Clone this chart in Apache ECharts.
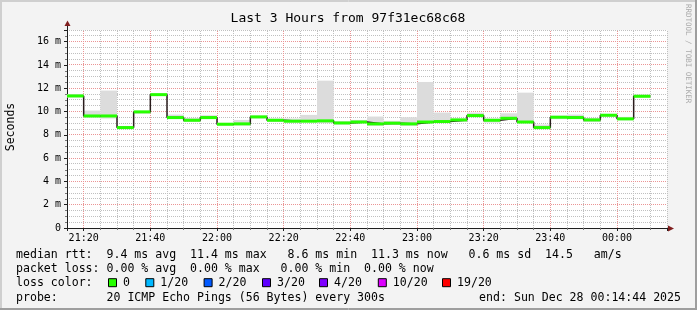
<!DOCTYPE html>
<html><head><meta charset="utf-8">
<script src="https://cdn.jsdelivr.net/npm/echarts@6/dist/echarts.min.js"></script>
<style>html,body{margin:0;padding:0;background:#f3f3f3}#c{width:697px;height:310px}</style>
</head><body><div id="c"></div>
<script>
// ---- data ----
const stepStart = ['21:15','21:20','21:25','21:30','21:35','21:40','21:45','21:50','21:55','22:00',
  '22:05','22:10','22:15','22:20','22:25','22:30','22:35','22:40','22:45','22:50',
  '22:55','23:00','23:05','23:10','23:15','23:20','23:25','23:30','23:35','23:40',
  '23:45','23:50','23:55','00:00','00:05'];
const median = [11.34, 9.62, 9.62, 8.62, 9.97, 11.45, 9.48, 9.25, 9.48, 8.91,
  8.94, 9.54, 9.25, 9.17, 9.17, 9.2, 9.02, 9.1, 8.94, 9.0,
  8.94, 9.1, 9.14, 9.28, 9.65, 9.25, 9.42, 9.1, 8.62, 9.51,
  9.48, 9.28, 9.68, 9.37, 11.31];
const smokeMin = [11.2, 9.48, 9.4, 8.5, 9.82, 11.35, 9.4, 9.1, 9.4, 8.77,
  8.8, 9.4, 9.1, 9.05, 9.1, 9.0, 8.88, 9.0, 8.77, 8.9,
  8.77, 9.0, 9.05, 9.1, 9.54, 9.05, 9.3, 9.0, 8.5, 9.34,
  9.4, 9.1, 9.54, 9.25, 11.2];
const smokeMax = [11.5, 10.08, 11.8, 8.74, 10.05, 11.55, 9.74, 9.45, 9.68, 9.02,
  9.28, 9.65, 9.4, 9.4, 9.71, 12.65, 9.17, 9.28, 9.57, 9.2,
  9.51, 12.54, 9.91, 9.4, 9.9, 9.4, 9.85, 11.62, 8.88, 9.65,
  9.74, 9.45, 9.8, 9.54, 11.45];
const stepMinutes = 5;
const windowStart = '21:15';
const windowEnd = '00:15';
const xTickLabels = ['21:20','21:40','22:00','22:20','22:40','23:00','23:20','23:40','00:00'];
const yTickLabels = ['0','2 m','4 m','6 m','8 m','10 m','12 m','14 m','16 m'];
const yMax = 17;
const yMinorStep = 0.5;

const titleText = 'Last 3 Hours from 97f31ec68c68';
const rttRow = 'median rtt:  9.4 ms avg  11.4 ms max   8.6 ms min  11.3 ms now   0.6 ms sd  14.5   am/s';
const lossRow = 'packet loss: 0.00 % avg  0.00 % max   0.00 % min  0.00 % now';
const lossColorTitle = 'loss color:';
const lossColorLabels = ['0','1/20','2/20','3/20','4/20','10/20','19/20'];
const lossColors = ['#26ff00','#00b8ff','#0059ff','#5e00ff','#7e00ff','#dd00ff','#ff0000'];
const probeRow = 'probe:       20 ICMP Echo Pings (56 Bytes) every 300s';
const endText = 'end: Sun Dec 28 00:14:44 2025';

// ---- helpers ----
function toMin(s){ const [h,m]=s.split(':').map(Number); return (h<12? h+24:h)*60+m; }
function fmtMin(v){ const t=Math.round(v)%1440; const h=Math.floor(t/60), m=t%60; return String(h).padStart(2,'0')+':'+String(m).padStart(2,'0'); }

const xs = stepStart.map(toMin);
const smokeData = xs.map((x,i)=>[x, smokeMin[i], smokeMax[i]]);
const medSegs = xs.map((x,i)=>[x, median[i]]);
const medLine = xs.map((x,i)=>[x, median[i]]).concat([[xs[xs.length-1]+stepMinutes, median[median.length-1]]]);
const xMin = toMin(windowStart), xMax = toMin(windowEnd);

const MONO = '"DejaVu Sans Mono", monospace';
const LEG = '11.57px ' + MONO;
const G = {left:67, top:30, width:600, height:198};

// ---- layout for texts ----
const swX = [108,145.3,203.6,262,319,377.8,442];
const rowY = [254.5,268.8,283.2,297.5];

const option = {
  animation:false,
  backgroundColor:'#f3f3f3',
  grid:{left:G.left,top:G.top,width:G.width,height:G.height,show:false},
  xAxis:{
    type:'value', min:xMin, max:xMax,
    splitNumber:9, minInterval:20, maxInterval:20,
    axisLine:{show:true,onZero:false,lineStyle:{color:'#1f1f1f',width:1}},
    axisTick:{show:true,length:3,lineStyle:{color:'#1f1f1f'}},
    minorTick:{show:true,splitNumber:4,length:2,lineStyle:{color:'#777'}},
    axisLabel:{show:true,margin:5,color:'#000',fontFamily:'DejaVu Sans Mono',fontSize:10,showMinLabel:false,showMaxLabel:false,
      formatter:v=>{const s=fmtMin(v);return xTickLabels.includes(s)?s:'';}},
    splitLine:{show:false}, minorSplitLine:{show:false}
  },
  yAxis:{
    type:'value', min:0, max:yMax, interval:2,
    axisLine:{show:true,lineStyle:{color:'#1f1f1f',width:1}},
    axisTick:{show:true,length:3,lineStyle:{color:'#1f1f1f'}},
    minorTick:{show:true,splitNumber:4,length:2,lineStyle:{color:'#777'}},
    axisLabel:{show:true,margin:6,color:'#000',fontFamily:'DejaVu Sans Mono',fontSize:10,showMaxLabel:false,
      formatter:v=>{const i=Math.round(v/2);return (Math.abs(v-i*2)<1e-6 && yTickLabels[i]!==undefined)?yTickLabels[i]:'';}},
    splitLine:{show:false}, minorSplitLine:{show:false}
  },
  series:[
    {type:'custom', z:2, silent:true, data:smokeData, clip:true,
      renderItem:(p,api)=>{
        const x0=api.value(0), lo=api.value(1), hi=api.value(2);
        const a=api.coord([x0,hi]), b=api.coord([x0+stepMinutes,lo]);
        return {type:'rect',shape:{x:a[0],y:a[1],width:b[0]-a[0],height:Math.max(1,b[1]-a[1])},style:{fill:'#dcdcdc'}};
      }},
    {type:'line', z:3, silent:true, data:medLine, step:'end', symbol:'none',
      lineStyle:{color:'#2a1c1c',width:1.5}},
    {type:'custom', z:4, silent:true, data:medSegs,
      renderItem:(p,api)=>{
        const x0=api.value(0), v=api.value(1);
        const a=api.coord([x0,v]), b=api.coord([x0+stepMinutes,v]);
        return {type:'rect',shape:{x:a[0],y:a[1]-1.5,width:b[0]-a[0],height:3},style:{fill:'#26ff00'}};
      }}
  ]
};
const chart = echarts.init(document.getElementById('c'),null,{renderer:'canvas'});
chart.setOption(option);

// ---- decorations: grid lines from the axis scales, frame, texts ----
const graphic = [];
const px = v => chart.convertToPixel({xAxisIndex:0}, v);
const py = v => chart.convertToPixel({yAxisIndex:0}, v);
const snap = p => Math.round(p - 0.5) + 0.5;
const gx0 = px(xMin), gx1 = px(xMax), gy0 = py(0), gy1 = py(yMax);
graphic.push({type:'rect',z:-20,silent:true,shape:{x:gx0,y:gy1,width:gx1-gx0,height:gy0-gy1},style:{fill:'#ffffff'}});
const majorX = xTickLabels.map(s=>toMin(s));
const minorLines = [], majorLines = [];
for (let v = xMin + stepMinutes; v <= xMax + 1e-6; v += stepMinutes) {
  const x = snap(px(v));
  (majorX.indexOf(v) >= 0 ? majorLines : minorLines).push([x,gy0,x,gy1]);
}
for (let v = yMinorStep; v <= yMax + 1e-6; v += yMinorStep) {
  const y = snap(py(v));
  (Math.abs(v/2 - Math.round(v/2)) < 1e-6 ? majorLines : minorLines).push([gx0,y,gx1,y]);
}
minorLines.forEach(l=>graphic.push({type:'line',z:-15,silent:true,shape:{x1:l[0],y1:l[1],x2:l[2],y2:l[3]},style:{stroke:'#c0c0c0',lineWidth:1,lineDash:[1,1]}}));
majorLines.forEach(l=>graphic.push({type:'line',z:-14,silent:true,shape:{x1:l[0],y1:l[1],x2:l[2],y2:l[3]},style:{stroke:'#eb9595',lineWidth:1,lineDash:[1,1]}}));
function txt(t,x,y,font,extra){ graphic.push(Object.assign({type:'text',x:x,y:y,silent:true,style:{text:t,font:font,fill:'#000',textVerticalAlign:'middle',textAlign:'left'}},extra||{})); }
// frame
[[0.5,0,0.5,310,'#cfcfcf'],[1.5,0,1.5,310,'#cfcfcf'],[0,0.5,697,0.5,'#cfcfcf'],[0,1.5,697,1.5,'#cfcfcf'],
 [0,308.5,697,308.5,'#9e9e9e'],[0,309.5,697,309.5,'#9e9e9e'],[695.5,0,695.5,310,'#9e9e9e'],[696.5,0,696.5,310,'#9e9e9e']]
 .forEach(l=>graphic.push({type:'line',silent:true,z:20,shape:{x1:l[0],y1:l[1],x2:l[2],y2:l[3]},style:{stroke:l[4],lineWidth:1}}));
// title
graphic.push({type:'text',x:348,y:19,silent:true,style:{text:titleText,font:'13px '+MONO,fill:'#000',textAlign:'center',textVerticalAlign:'middle'}});
// y name
graphic.push({type:'text',x:11,y:127,rotation:Math.PI/2,silent:true,style:{text:'Seconds',font:'11.5px '+MONO,fill:'#000',textAlign:'center',textVerticalAlign:'middle'}});
// watermark
graphic.push({type:'text',x:688,y:4,rotation:-Math.PI/2,silent:true,style:{text:'RRDTOOL / TOBI OETIKER',font:'7.5px '+MONO,fill:'#aaaaaa',textAlign:'left',textVerticalAlign:'middle'}});
// axis extensions + arrows
graphic.push({type:'line',shape:{x1:67.5,y1:31,x2:67.5,y2:25},style:{stroke:'#1f1f1f',lineWidth:1},silent:true,z:10});
graphic.push({type:'line',shape:{x1:666,y1:228.5,x2:669,y2:228.5},style:{stroke:'#1f1f1f',lineWidth:1},silent:true,z:10});
graphic.push({type:'polygon',shape:{points:[[64.5,26],[70.5,26],[67.5,20.5]]},style:{fill:'#801f1f'},silent:true,z:10});
graphic.push({type:'polygon',shape:{points:[[668,225.5],[668,231.5],[674,228.5]]},style:{fill:'#801f1f'},silent:true,z:10});
// legend rows
txt(rttRow,16,rowY[0],LEG);
txt(lossRow,16,rowY[1],LEG);
txt(lossColorTitle,16,rowY[2],LEG);
lossColorLabels.forEach((t,i)=>{
  graphic.push({type:'rect',silent:true,shape:{x:swX[i]+0.5,y:rowY[2]-4.5,width:8,height:8},style:{fill:lossColors[i],stroke:'#000',lineWidth:1}});
  txt(t,swX[i]+15,rowY[2],LEG);
});
txt(probeRow,16,rowY[3],LEG);
txt(endText,681,rowY[3],LEG,{style:{text:endText,font:LEG,fill:'#000',textVerticalAlign:'middle',textAlign:'right'}});
chart.setOption({graphic:graphic});
</script></body></html>
